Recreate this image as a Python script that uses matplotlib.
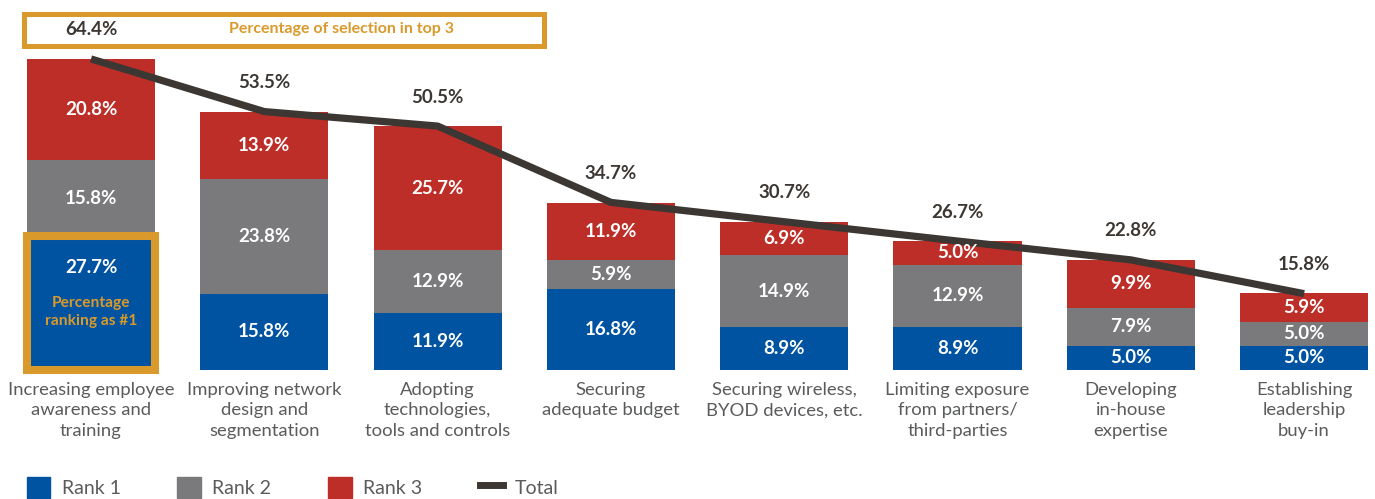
import matplotlib
matplotlib.use("Agg")
import matplotlib.pyplot as plt
from matplotlib.patches import Patch, Rectangle
from matplotlib.lines import Line2D

plt.rcParams['font.family'] = ['Lato', 'DejaVu Sans']

categories = ["Increasing employee\nawareness and\ntraining",
              "Improving network\ndesign and\nsegmentation",
              "Adopting\ntechnologies,\ntools and controls",
              "Securing\nadequate budget",
              "Securing wireless,\nBYOD devices, etc.",
              "Limiting exposure\nfrom partners/\nthird-parties",
              "Developing\nin-house\nexpertise",
              "Establishing\nleadership\nbuy-in"]
rank1 = [27.7, 15.8, 11.9, 16.8, 8.9, 8.9, 5.0, 5.0]
rank2 = [15.8, 23.8, 12.9, 5.9, 14.9, 12.9, 7.9, 5.0]
rank3 = [20.8, 13.9, 25.7, 11.9, 6.9, 5.0, 9.9, 5.9]
total = [64.4, 53.5, 50.5, 34.7, 30.7, 26.7, 22.8, 15.8]

BLUE = "#0053a1"
GRAY = "#7a7a7c"
RED = "#be2e28"
GOLD = "#d99a2b"
DARK = "#3c3733"
TXT = "#5a5b5d"

fig = plt.figure(figsize=(13.75, 4.99), dpi=100)
ax = fig.add_axes([0, 129 / 499, 1, 370 / 499])
ax.set_xlim(-0.525, 7.409)
ax.set_ylim(0, 76.6)
ax.axis("off")

x = list(range(len(categories)))
w = 0.739
bottom2 = [a for a in rank1]
bottom3 = [a + b for a, b in zip(rank1, rank2)]
ax.bar(x, rank1, w, color=BLUE, zorder=2)
ax.bar(x, rank2, w, bottom=bottom2, color=GRAY, zorder=2)
ax.bar(x, rank3, w, bottom=bottom3, color=RED, zorder=2)

# segment labels
for i in x:
    y1 = rank1[i] / 2 if i > 0 else 21.3
    ax.text(i, y1, f"{rank1[i]:.1f}%", color="white", fontsize=13.5, fontweight="bold",
            ha="center", va="center", zorder=5)
    ax.text(i, bottom2[i] + rank2[i] / 2, f"{rank2[i]:.1f}%", color="white", fontsize=13.5,
            fontweight="bold", ha="center", va="center", zorder=5)
    ax.text(i, bottom3[i] + rank3[i] / 2, f"{rank3[i]:.1f}%", color="white", fontsize=13.5,
            fontweight="bold", ha="center", va="center", zorder=5)
    ax.text(i, total[i] + 6, f"{total[i]:.1f}%", color=DARK, fontsize=13.5,
            fontweight="bold", ha="center", va="center", zorder=5)
    ax.text(i, -2.4, categories[i], color=TXT, fontsize=13.3, ha="center", va="top",
            linespacing=1.36)

# total line
ax.plot(x, total, color=DARK, lw=5.2, zorder=4, solid_capstyle="butt")

# callout boxes
ax.add_patch(Rectangle((-w / 2, 0), w, rank1[0], fill=False, edgecolor=GOLD, lw=5.8,
                       zorder=3, clip_on=False))
ax.text(0, 12.0, "Percentage\nranking as #1", color=GOLD, fontsize=11.2, fontweight="bold",
        ha="center", va="center", linespacing=1.3, zorder=5)
ax.add_patch(Rectangle((-0.387, 67.1), 3.001, 6.6, fill=False, edgecolor=GOLD, lw=3.6,
                       zorder=3, clip_on=False))
ax.text(1.443, 70.6, "Percentage of selection in top 3", color=GOLD, fontsize=11.5,
        fontweight="bold", ha="center", va="center")

handles = [Patch(color=BLUE, label="Rank 1"), Patch(color=GRAY, label="Rank 2"),
           Patch(color=RED, label="Rank 3"), Line2D([0], [0], color=DARK, lw=5, label="Total")]
leg = fig.legend(handles=handles, loc="upper left", bbox_to_anchor=(9 / 1375, 1 - 459 / 499),
                 ncol=4, frameon=False, fontsize=14, handlelength=1.2, handleheight=1.3,
                 handletextpad=0.6, columnspacing=2.93)
for t in leg.get_texts():
    t.set_color(TXT)

fig.savefig("out.png", dpi=100)
